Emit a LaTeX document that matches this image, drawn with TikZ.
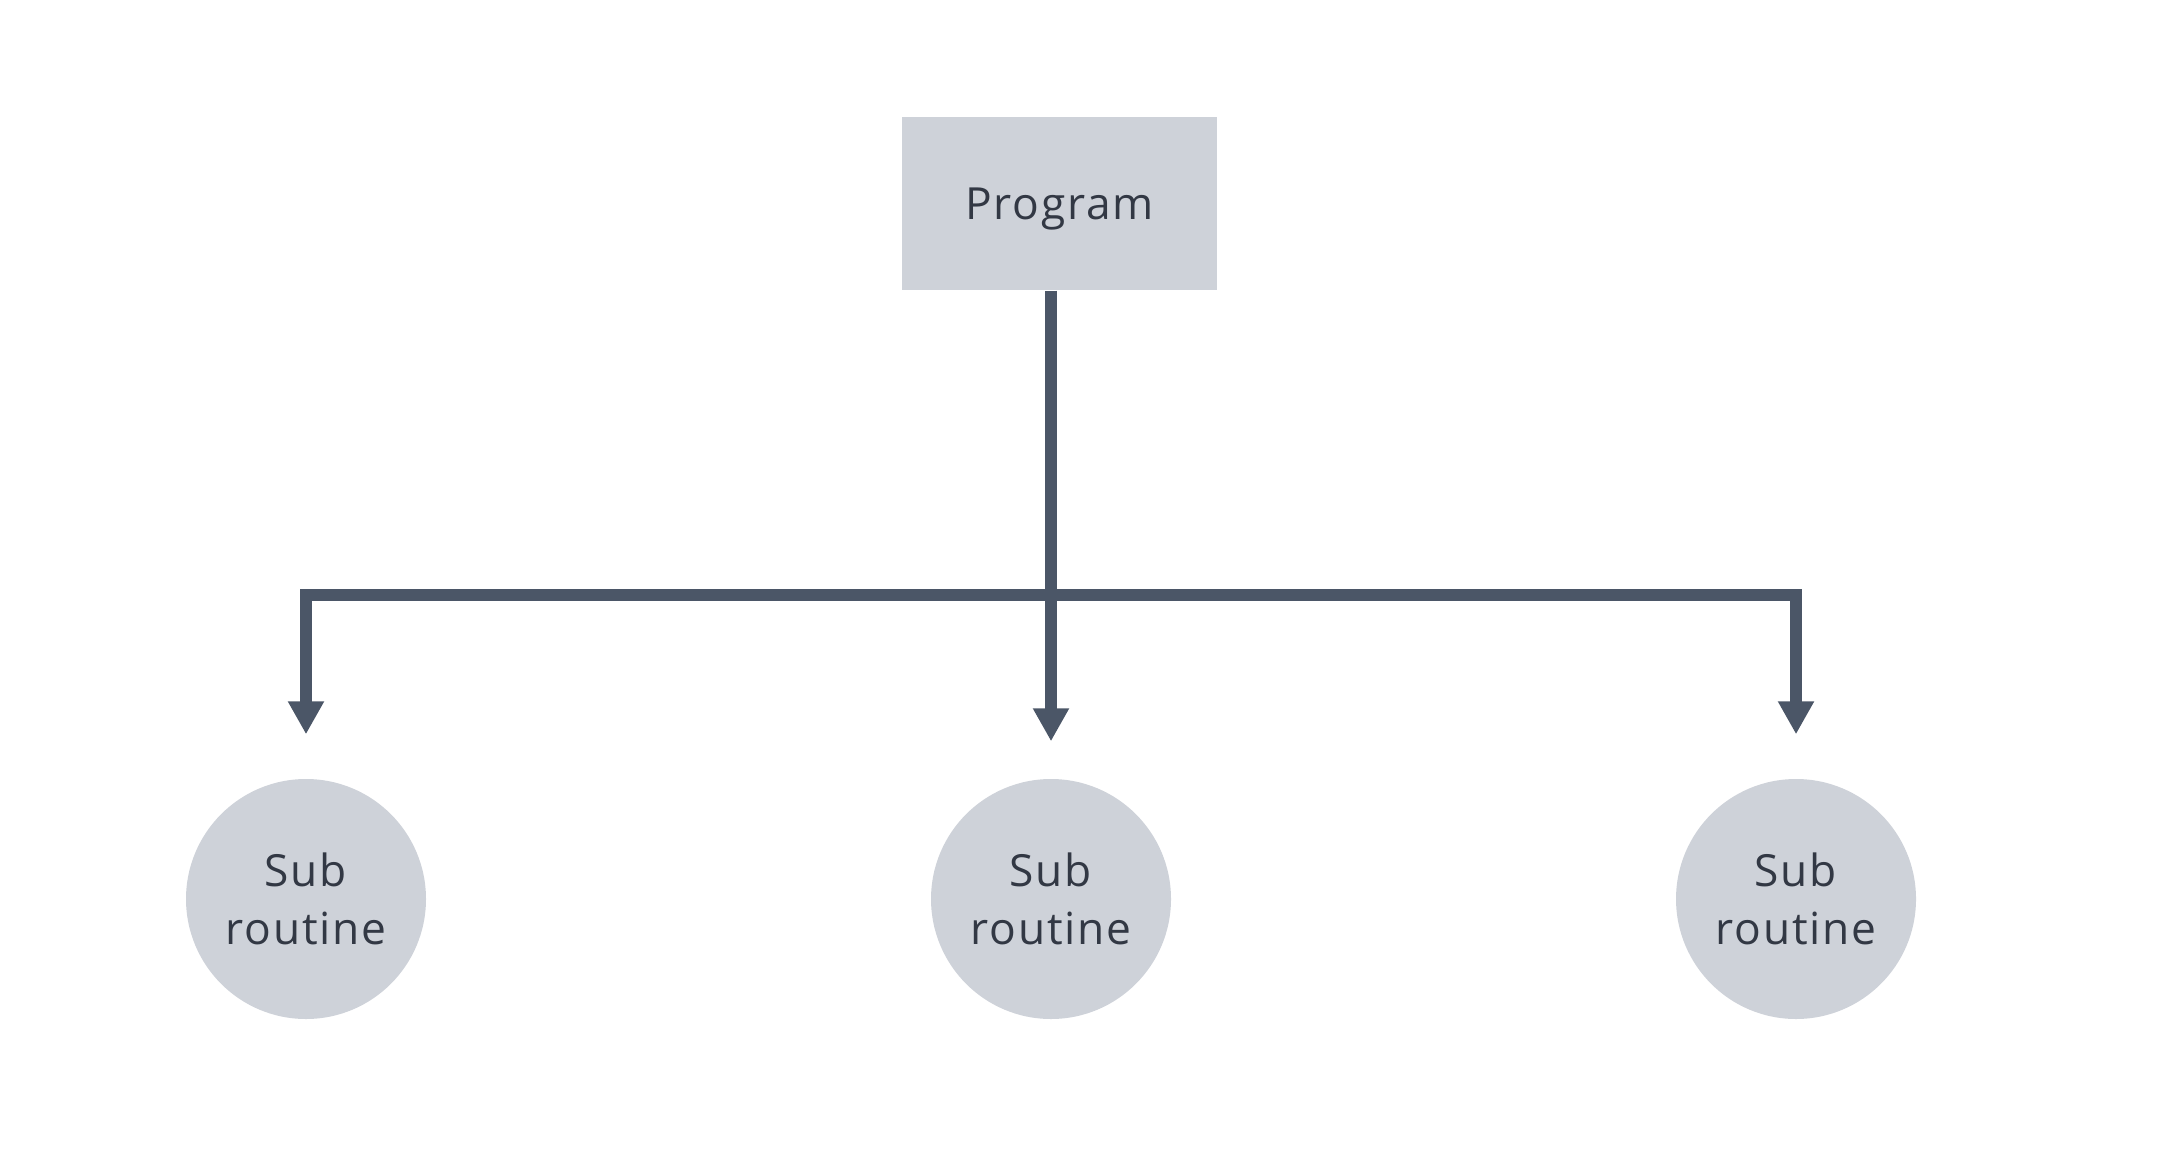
\documentclass[tikz,border=0pt]{standalone}
\usepackage{fontspec}
\setmainfont[LetterSpace=4]{Open Sans}
\usetikzlibrary{arrows.meta}
\definecolor{tree@fill}{RGB}{206,210,217}
\definecolor{tree@line}{RGB}{75,86,103}
\definecolor{tree@text}{RGB}{50,56,68}

\begin{document}
\begin{tikzpicture}[
  progbox/.style={
    rectangle, fill=tree@fill, text=tree@text,
    minimum width=3.15cm, minimum height=1.73cm,
    inner sep=0pt, text depth=0pt, font=\fontsize{12.6}{16}\selectfont,
  },
  subnode/.style={
    circle, fill=tree@fill, text=tree@text,
    minimum size=2.4cm, inner sep=0pt, align=center,
    font=\fontsize{12.6}{16.5}\selectfont,
  },
  link/.style={
    draw=tree@line, line width=0.12cm,
    -{Triangle[width=0.34cm,length=0.33cm]},
  },
]
\useasboundingbox (0,0) rectangle (21.8,11.74);

% Program
\node[progbox] (prog) at (10.595,9.705) {Program};

% Sub routines
\node[subnode] (sub1) at (3.06,2.75) {Sub\\routine};
\node[subnode] (sub2) at (10.51,2.75) {Sub\\routine};
\node[subnode] (sub3) at (17.96,2.75) {Sub\\routine};

\coordinate (bar) at (10.51,5.79);

\draw[link, shorten >=0.37cm] (prog.south -| sub2) -- (sub2.north);
\draw[link, {Triangle[width=0.34cm,length=0.33cm]}-{Triangle[width=0.34cm,length=0.33cm]},
  shorten <=0.44cm, shorten >=0.44cm]
  (sub1.north) |- (bar) -| (sub3.north);

\end{tikzpicture}
\end{document}
